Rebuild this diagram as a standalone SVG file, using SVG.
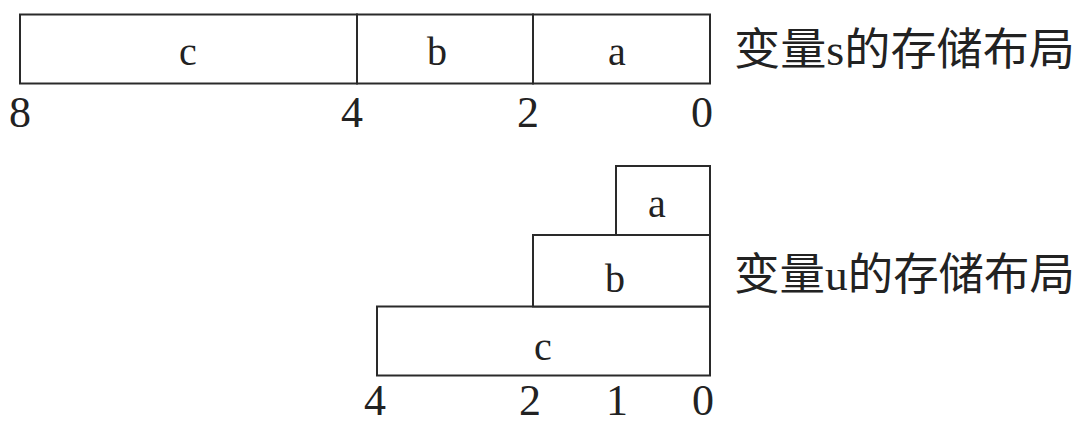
<svg xmlns="http://www.w3.org/2000/svg" width="1084" height="426" viewBox="0 0 1084 426">
<style>
.box{fill:#fff;stroke:#2a2a2a;stroke-width:2}
.lbl{font-family:"Liberation Serif","Noto Sans CJK SC",serif;font-size:40px;fill:#222;text-anchor:middle}
.num{font-family:"Liberation Serif",serif;font-size:44px;fill:#222;text-anchor:middle}
.cap{font-family:"Liberation Serif","Noto Sans CJK SC",serif;font-size:44px;fill:#222}
</style>
<rect width="1084" height="426" fill="#fff"/>
<g id="s-layout">
<g id="s-c"><rect class="box" x="20" y="14.5" width="337" height="69"/><text class="lbl" x="188" y="65">c</text></g>
<g id="s-b"><rect class="box" x="357" y="14.5" width="176" height="69"/><text class="lbl" x="437" y="65">b</text></g>
<g id="s-a"><rect class="box" x="533" y="14.5" width="177" height="69"/><text class="lbl" x="617" y="65">a</text></g>
<g id="s-nums">
<text class="num" x="20" y="127">8</text>
<text class="num" x="352" y="127">4</text>
<text class="num" x="528" y="127">2</text>
<text class="num" x="702" y="127">0</text>
</g>
<text id="s-cap" class="cap" x="734" y="65" textLength="341" lengthAdjust="spacingAndGlyphs">变量s的存储布局</text>
</g>
<g id="u-layout">
<g id="u-c"><rect class="box" x="377" y="306.5" width="333" height="69"/><text class="lbl" x="543" y="360">c</text></g>
<g id="u-b"><rect class="box" x="533" y="235" width="177" height="71.5"/><text class="lbl" x="615" y="292">b</text></g>
<g id="u-a"><rect class="box" x="616" y="166" width="94" height="69"/><text class="lbl" x="657" y="217">a</text></g>
<g id="u-nums">
<text class="num" x="375" y="415">4</text>
<text class="num" x="530" y="415">2</text>
<text class="num" x="617" y="415">1</text>
<text class="num" x="703" y="415">0</text>
</g>
<text id="u-cap" class="cap" x="734" y="290" textLength="341" lengthAdjust="spacingAndGlyphs">变量u的存储布局</text>
</g>
</svg>
